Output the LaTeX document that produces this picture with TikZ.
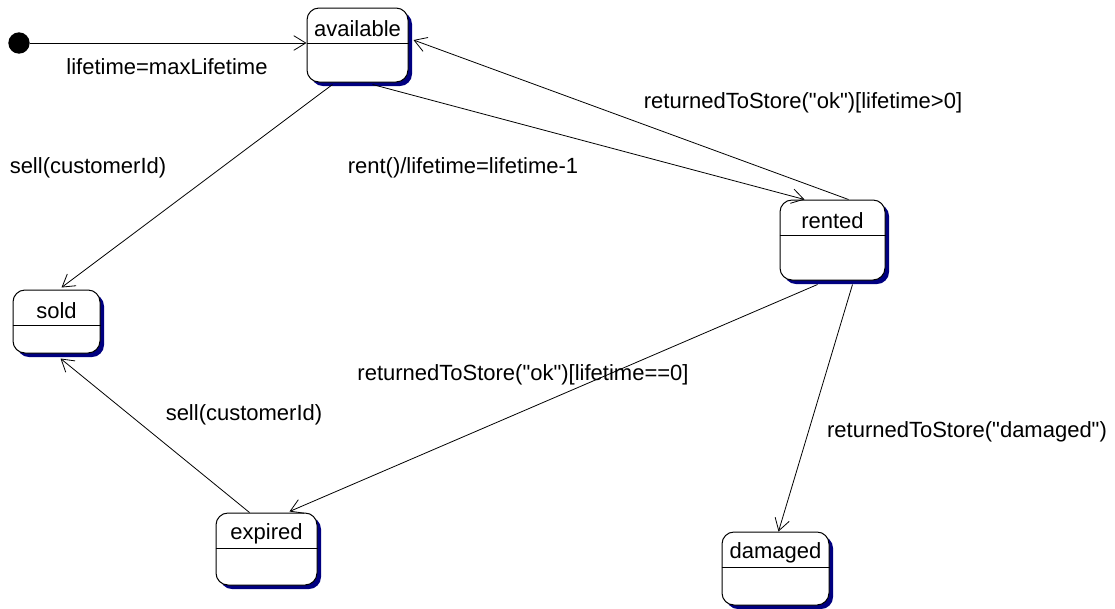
\documentclass[tikz,border=0pt]{standalone}
\usepackage{fontspec}
\setmainfont{Liberation Sans}[Ligatures=TeXOff]
\usetikzlibrary{arrows.meta,calc,shadows}
\definecolor{navyshadow}{RGB}{0,0,128}

\begin{document}
\begin{tikzpicture}[x=0.75pt,y=-0.75pt,
    state/.style={draw,fill=white,rounded corners=9pt,line width=0.75pt,
      general shadow={fill=navyshadow,shadow xshift=3pt,shadow yshift=-3pt}},
    trans/.style={line width=0.6pt,-{Straight Barb[length=9pt,width=11pt]}},
    lbl/.style={inner sep=0pt,font=\fontsize{16.5}{19}\selectfont}]
    \useasboundingbox (0,0) rectangle (1115,608);

    % states
    \node[circle,fill,inner sep=0pt,minimum size=16pt] (init) at (19,43) {};
    \node[state,minimum width=75.75pt,minimum height=55.5pt] (avail) at (357.5,45) {};
    \node[state,minimum width=78.75pt,minimum height=60pt] (rented) at (832.5,240) {};
    \node[state,minimum width=65.25pt,minimum height=47.25pt] (sold) at (56.5,321.5) {};
    \node[state,minimum width=75.75pt,minimum height=54pt] (expired) at (266.5,549) {};
    \node[state,minimum width=80.25pt,minimum height=54.75pt] (damaged) at (775.5,568.5) {};

    \foreach \s/\t in {avail/available,rented/rented,sold/sold,expired/expired,damaged/damaged}{
        \node[lbl] (\s T) at ($(\s.north)+(0,21)$) {\t};
        \draw[line width=0.75pt] ($(\s.north west)+(0,36)$) -- ($(\s.north east)+(0,36)$);
    }

    % transitions
    \draw[trans] (init) -- (avail.west |- init);
    \draw[trans] ($(avail.south)+(-25,2)$) -- ($(sold.north)+(5,-2)$);
    \draw[trans] ($(avail.south)+(15,2)$) -- ($(rented.north)+(-28,0)$);
    \draw[trans] ($(rented.north)+(16,0)$) -- ($(avail.east)+(5,-5)$);
    \draw[trans] ($(rented.south)+(-15,4)$) -- ($(expired.north)+(23,-1)$);
    \draw[trans] ($(rented.south)+(20,4)$) -- ($(damaged.north)+(3,0)$);
    \draw[trans] ($(expired.north)+(-17,0)$) -- ($(sold.south)+(4,5)$);

    % labels
    \node[lbl] (initL) at (167,67) {lifetime=maxLifetime};
    \node[lbl] (sellA) at (88,168) {sell(customerId)};
    \node[lbl] (rentL) at (463,168) {rent()/lifetime=lifetime-1};
    \node[lbl] (okA) at (803,103) {returnedToStore("ok")[lifetime>0]};
    \node[lbl] (okB) at (523,375) {returnedToStore("ok")[lifetime==0]};
    \node[lbl] (dmgL) at (967,432) {returnedToStore("damaged")};
    \node[lbl] (sellB) at (244,415) {sell(customerId)};
\end{tikzpicture}
\end{document}
